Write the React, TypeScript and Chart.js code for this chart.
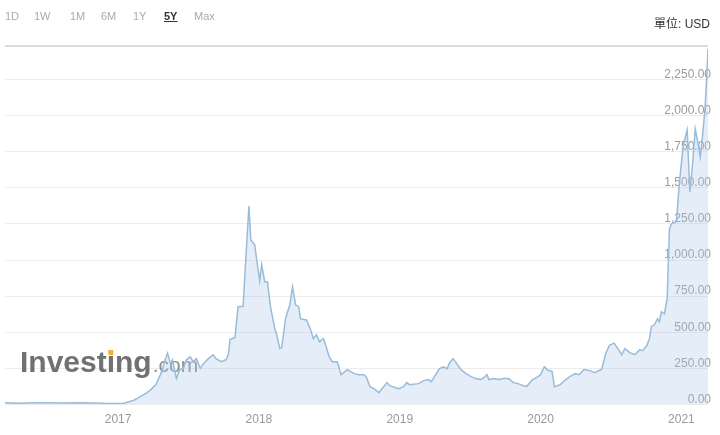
import React, { useEffect, useRef } from "react";
import { Chart, registerables } from "chart.js";

Chart.register(...registerables);

const rangeButtons = ["1D", "1W", "1M", "6M", "1Y", "5Y", "Max"];
const activeRange = "5Y";
const unitLabel = "單位: USD";
const yearTicks = [2017, 2018, 2019, 2020, 2021];
const priceTicks = [0, 250, 500, 750, 1000, 1250, 1500, 1750, 2000, 2250];
const rangeStart = "2016-03-13";
const rangeEnd = "2021-03-11";

const dates = [
  "2016-03-13", "2016-04-20", "2016-05-29", "2016-07-07", "2016-08-15", "2016-09-22", "2016-10-31", "2016-12-08",
  "2017-01-16", "2017-02-11", "2017-02-24", "2017-03-14", "2017-03-27", "2017-04-09", "2017-04-16", "2017-04-24",
  "2017-05-04", "2017-05-09", "2017-05-17", "2017-05-22", "2017-06-01", "2017-06-09", "2017-06-19", "2017-06-27",
  "2017-07-07", "2017-07-15", "2017-07-23", "2017-08-02", "2017-08-10", "2017-08-23", "2017-09-04", "2017-09-12",
  "2017-09-25", "2017-10-08", "2017-10-14", "2017-10-18", "2017-10-31", "2017-11-08", "2017-11-21", "2017-11-28",
  "2017-12-06", "2017-12-11", "2017-12-21", "2017-12-27", "2018-01-03", "2018-01-08", "2018-01-16", "2018-01-23",
  "2018-01-31", "2018-02-11", "2018-02-16", "2018-02-24", "2018-03-01", "2018-03-11", "2018-03-22", "2018-03-29",
  "2018-04-06", "2018-04-14", "2018-04-19", "2018-04-29", "2018-05-04", "2018-05-15", "2018-05-22", "2018-05-30",
  "2018-06-07", "2018-06-17", "2018-06-22", "2018-07-02", "2018-07-10", "2018-07-23", "2018-08-02", "2018-08-18",
  "2018-09-05", "2018-09-17", "2018-09-30", "2018-10-06", "2018-10-16", "2018-10-26", "2018-11-08", "2018-11-16",
  "2018-11-29", "2018-12-06", "2018-12-29", "2019-01-11", "2019-01-19", "2019-01-26", "2019-02-19", "2019-03-04",
  "2019-03-16", "2019-03-24", "2019-04-01", "2019-04-14", "2019-04-24", "2019-05-04", "2019-05-09", "2019-05-19",
  "2019-05-27", "2019-06-09", "2019-06-22", "2019-07-05", "2019-07-17", "2019-07-30", "2019-08-07", "2019-08-15",
  "2019-08-20", "2019-09-02", "2019-09-15", "2019-09-27", "2019-10-10", "2019-10-23", "2019-11-04", "2019-11-17",
  "2019-11-27", "2019-12-10", "2019-12-23", "2020-01-01", "2020-01-11", "2020-01-21", "2020-01-26", "2020-01-31",
  "2020-02-06", "2020-02-21", "2020-03-05", "2020-03-17", "2020-03-31", "2020-04-10", "2020-04-23", "2020-05-08",
  "2020-05-21", "2020-06-08", "2020-06-18", "2020-06-28", "2020-07-10", "2020-07-20", "2020-07-30", "2020-08-07",
  "2020-08-20", "2020-09-02", "2020-09-15", "2020-09-22", "2020-10-03", "2020-10-10", "2020-10-15", "2020-10-23",
  "2020-10-31", "2020-11-05", "2020-11-10", "2020-11-18", "2020-11-25", "2020-12-01", "2020-12-06", "2020-12-19",
  "2020-12-27", "2021-01-06", "2021-01-16", "2021-01-23", "2021-01-29", "2021-02-06", "2021-02-11", "2021-02-19",
  "2021-02-24", "2021-03-03", "2021-03-08", "2021-03-11",
];

const prices = [
  12, 9, 13, 12, 11, 13, 11, 8,
  10, 30, 50, 78, 104, 138, 180, 228,
  318, 355, 283, 310, 180, 240, 250, 310,
  330, 297, 318, 250, 283, 318, 345, 318,
  297, 310, 350, 450, 465, 677, 680, 1008,
  1374, 1139, 1105, 988, 856, 967, 850, 850,
  677, 525, 483, 387, 394, 594, 690, 815,
  690, 677, 594, 587, 587, 518, 456, 483,
  435, 456, 421, 331, 297, 297, 207, 242,
  214, 207, 207, 193, 124, 110, 83, 110,
  152, 131, 110, 124, 152, 138, 145, 166,
  173, 159, 193, 249, 262, 249, 283, 318,
  290, 242, 214, 193, 180, 173, 186, 207,
  173, 180, 173, 180, 180, 152, 145, 131,
  128, 170, 190, 207, 262, 235, 235, 228,
  124, 138, 170, 193, 214, 207, 242, 235,
  221, 245, 350, 410, 425, 387, 345, 387,
  359, 345, 380, 373, 407, 456, 539, 552,
  594, 573, 642, 628, 732, 1215, 1250, 1264,
  1540, 1796, 1899, 1471, 1630, 1906, 1837, 1713,
  1837, 2037, 2279, 2460,
];

function toYear(d: string): number {
  const [y, m, dd] = d.split("-").map(Number);
  const start = Date.UTC(y, 0, 1);
  const end = Date.UTC(y + 1, 0, 1);
  return y + (Date.UTC(y, m - 1, dd) - start) / (end - start);
}

const fmt = (v: number) =>
  v.toLocaleString("en-US", { minimumFractionDigits: 2, maximumFractionDigits: 2 });

const watermarkPlugin = {
  id: "watermark",
  beforeDatasetsDraw(chart: any) {
    const ctx = chart.ctx;
    ctx.save();
    ctx.textBaseline = "alphabetic";
    ctx.textAlign = "left";
    ctx.font = "bold 30px 'Liberation Sans', Arial, sans-serif";
    ctx.fillStyle = "rgba(105,105,105,0.95)";
    const x0 = 20;
    const base = 372;
    ctx.fillText("Investing", x0, base);
    const w1 = ctx.measureText("Invest").width;
    const wi = ctx.measureText("i").width;
    const wAll = ctx.measureText("Investing").width;
    ctx.fillStyle = "#f2b134";
    ctx.fillRect(x0 + w1 + wi / 2 - 2.5, base - 22, 5, 5);
    ctx.font = "21px 'Liberation Sans', Arial, sans-serif";
    ctx.fillStyle = "rgba(130,130,130,0.9)";
    ctx.fillText(".com", x0 + wAll + 1, base);
    ctx.restore();
  },
  afterDraw(chart: any) {
    const ctx = chart.ctx;
    const a = chart.chartArea;
    ctx.save();
    ctx.strokeStyle = "#dcdcdc";
    ctx.lineWidth = 2;
    ctx.beginPath();
    ctx.moveTo(a.left, a.top);
    ctx.lineTo(a.right, a.top);
    ctx.stroke();
    ctx.restore();
  },
};

export default function App() {
  const ref = useRef<HTMLCanvasElement>(null);

  useEffect(() => {
    if (!ref.current) return;
    const points = dates.map((d, i) => ({ x: toYear(d), y: prices[i] }));
    const chart = new Chart(ref.current, {
      type: "line",
      data: {
        datasets: [
          {
            data: points,
            borderColor: "rgb(152,188,218)",
            borderWidth: 1.5,
            backgroundColor: "rgba(170,200,232,0.32)",
            fill: "origin",
            pointRadius: 0,
            tension: 0,
          },
        ],
      },
      options: {
        responsive: false,
        animation: false,
        devicePixelRatio: 1,
        layout: { padding: { left: 5, right: 6, top: 46, bottom: 0 } },
        plugins: { legend: { display: false }, tooltip: { enabled: false } },
        scales: {
          x: {
            type: "linear",
            min: toYear(rangeStart),
            max: toYear(rangeEnd),
            afterBuildTicks: (scale: any) => {
              scale.ticks = yearTicks.map((v) => ({ value: v }));
            },
            grid: { display: false, drawTicks: false },
            border: { display: false },
            ticks: {
              padding: 8,
              maxRotation: 0,
              autoSkip: false,
              color: "#999999",
              font: { size: 12, family: "'Liberation Sans', Arial, sans-serif" },
              callback: (v: any) => String(v),
            },
          },
          y: {
            position: "right",
            min: 0,
            max: 2480,
            afterBuildTicks: (scale: any) => {
              scale.ticks = priceTicks.map((v) => ({ value: v }));
            },
            grid: { color: "#ececec", drawTicks: false },
            border: { display: false },
            ticks: {
              mirror: true,
              padding: 3,
              labelOffset: -5,
              color: "#9a9a9a",
              font: { size: 12, family: "'Liberation Sans', Arial, sans-serif" },
              callback: (v: any) => fmt(Number(v)),
            },
          },
        },
      },
      plugins: [watermarkPlugin],
    });
    return () => chart.destroy();
  }, []);

  return (
    <div style={{ position: "fixed", left: 0, top: 0, width: 720, height: 435, background: "#fff" }}>
      <canvas ref={ref} width={720} height={435} style={{ position: "absolute", left: 0, top: 0 }} />
      {rangeButtons.map((b, i) => {
        const lefts = [5, 34, 70, 101, 133, 164, 194];
        const active = b === activeRange;
        return (
          <span
            key={b}
            style={{
              position: "absolute",
              left: lefts[i],
              top: 9,
              fontFamily: "'Liberation Sans', Arial, sans-serif",
              fontSize: 11,
              lineHeight: "14px",
              color: active ? "#333" : "#aaaaaa",
              fontWeight: active ? "bold" : "normal",
              textDecoration: active ? "underline" : "none",
            }}
          >
            {b}
          </span>
        );
      })}
      <span
        style={{
          position: "absolute",
          right: 10,
          top: 16,
          fontFamily: "'Liberation Sans', 'Noto Sans CJK TC', sans-serif",
          fontSize: 12,
          lineHeight: "16px",
          color: "#333",
        }}
      >
        {unitLabel}
      </span>
    </div>
  );
}
